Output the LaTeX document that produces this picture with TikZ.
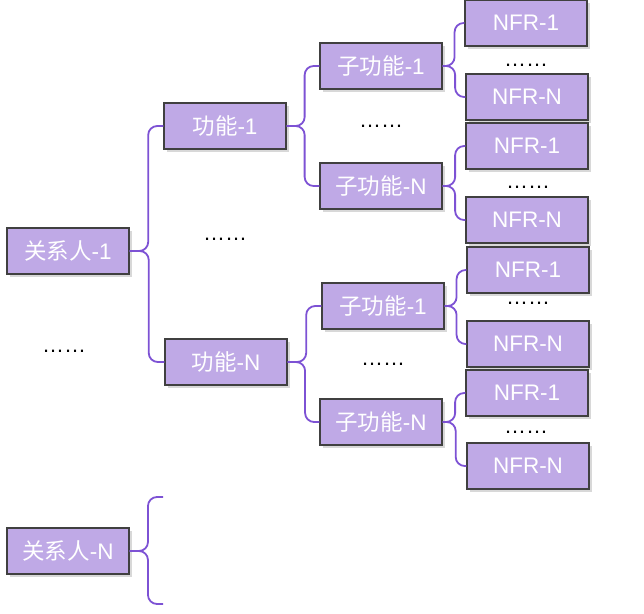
\documentclass[tikz,border=0pt]{standalone}
\usepackage{fontspec}
\setmainfont{Liberation Sans}
\newfontfamily\cjk{Noto Sans CJK SC}
\usepackage{tikz}
\usetikzlibrary{calc,shadows}
\definecolor{boxlilac}{HTML}{BFA9E6}
\definecolor{boxedge}{HTML}{404040}
\definecolor{lienviolet}{HTML}{7D52D4}

\begin{document}
\begin{tikzpicture}[
    x=1pt,y=-1pt,
    boite/.style = {rectangle, draw=boxedge, line width=1.2pt, fill=boxlilac,
                    minimum width=122pt, minimum height=46pt, inner sep=0pt,
                    text=white, font=\fontsize{22.5}{24}\selectfont,
                    drop shadow={shadow xshift=2.5pt, shadow yshift=-2.5pt,
                                 fill=black!30}},
    lien/.style  = {lienviolet, line width=1.8pt, rounded corners=9pt},
    pts/.style   = {font=\fontsize{22}{24}\selectfont, inner sep=0pt,
                    anchor=base},
  ]

  \useasboundingbox (0,0) rectangle (644,613);

  % stakeholders
  \node[boite] (rel1) at (68,251) {{\cjk 关系人}-1};
  \node[boite] (relN) at (68,551) {{\cjk 关系人}-N};

  % functions
  \node[boite] (fon1) at (225,126) {{\cjk 功能}-1};
  \node[boite] (fonN) at (226,362) {{\cjk 功能}-N};

  % sub-functions
  \node[boite] (sf11) at (381,66)  {{\cjk 子功能}-1};
  \node[boite] (sf1N) at (381,186) {{\cjk 子功能}-N};
  \node[boite] (sfN1) at (383,306) {{\cjk 子功能}-1};
  \node[boite] (sfNN) at (381,422) {{\cjk 子功能}-N};

  % non-functional requirements
  \node[boite] (nfr111) at (526,23)  {NFR-1};
  \node[boite] (nfr11N) at (527,97)  {NFR-N};
  \node[boite] (nfr1N1) at (527,146) {NFR-1};
  \node[boite] (nfr1NN) at (527,220) {NFR-N};
  \node[boite] (nfrN11) at (528,270) {NFR-1};
  \node[boite] (nfrN1N) at (528,344) {NFR-N};
  \node[boite] (nfrNN1) at (527,393) {NFR-1};
  \node[boite] (nfrNNN) at (528,466) {NFR-N};

  % ellipses
  \node[pts] (pt1) at (225,240) {……};
  \node[pts] (pt2) at (64,352)  {……};
  \node[pts] (pt3) at (381,127) {……};
  \node[pts] (pt4) at (383,365) {……};
  \node[pts] (pt5) at (526,66)  {……};
  \node[pts] (pt6) at (528,188) {……};
  \node[pts] (pt7) at (528,304) {……};
  \node[pts] (pt8) at (526,433) {……};

  \coordinate (relNa) at (163,497);
  \coordinate (relNb) at (163,604);

  % braces
  \foreach \a/\b in {rel1.east/fon1.west, rel1.east/fonN.west,
                     fon1.east/sf11.west, fon1.east/sf1N.west,
                     fonN.east/sfN1.west, fonN.east/sfNN.west,
                     sf11.east/nfr111.west, sf11.east/nfr11N.west,
                     sf1N.east/nfr1N1.west, sf1N.east/nfr1NN.west,
                     sfN1.east/nfrN11.west, sfN1.east/nfrN1N.west,
                     sfNN.east/nfrNN1.west, sfNN.east/nfrNNN.west,
                     relN.east/relNa, relN.east/relNb}
    \draw[lien] let \p1=(\a), \p2=(\b) in
      (\p1) -| ({0.45*\x1+0.55*\x2},\y2) -- (\p2);

\end{tikzpicture}
\end{document}
